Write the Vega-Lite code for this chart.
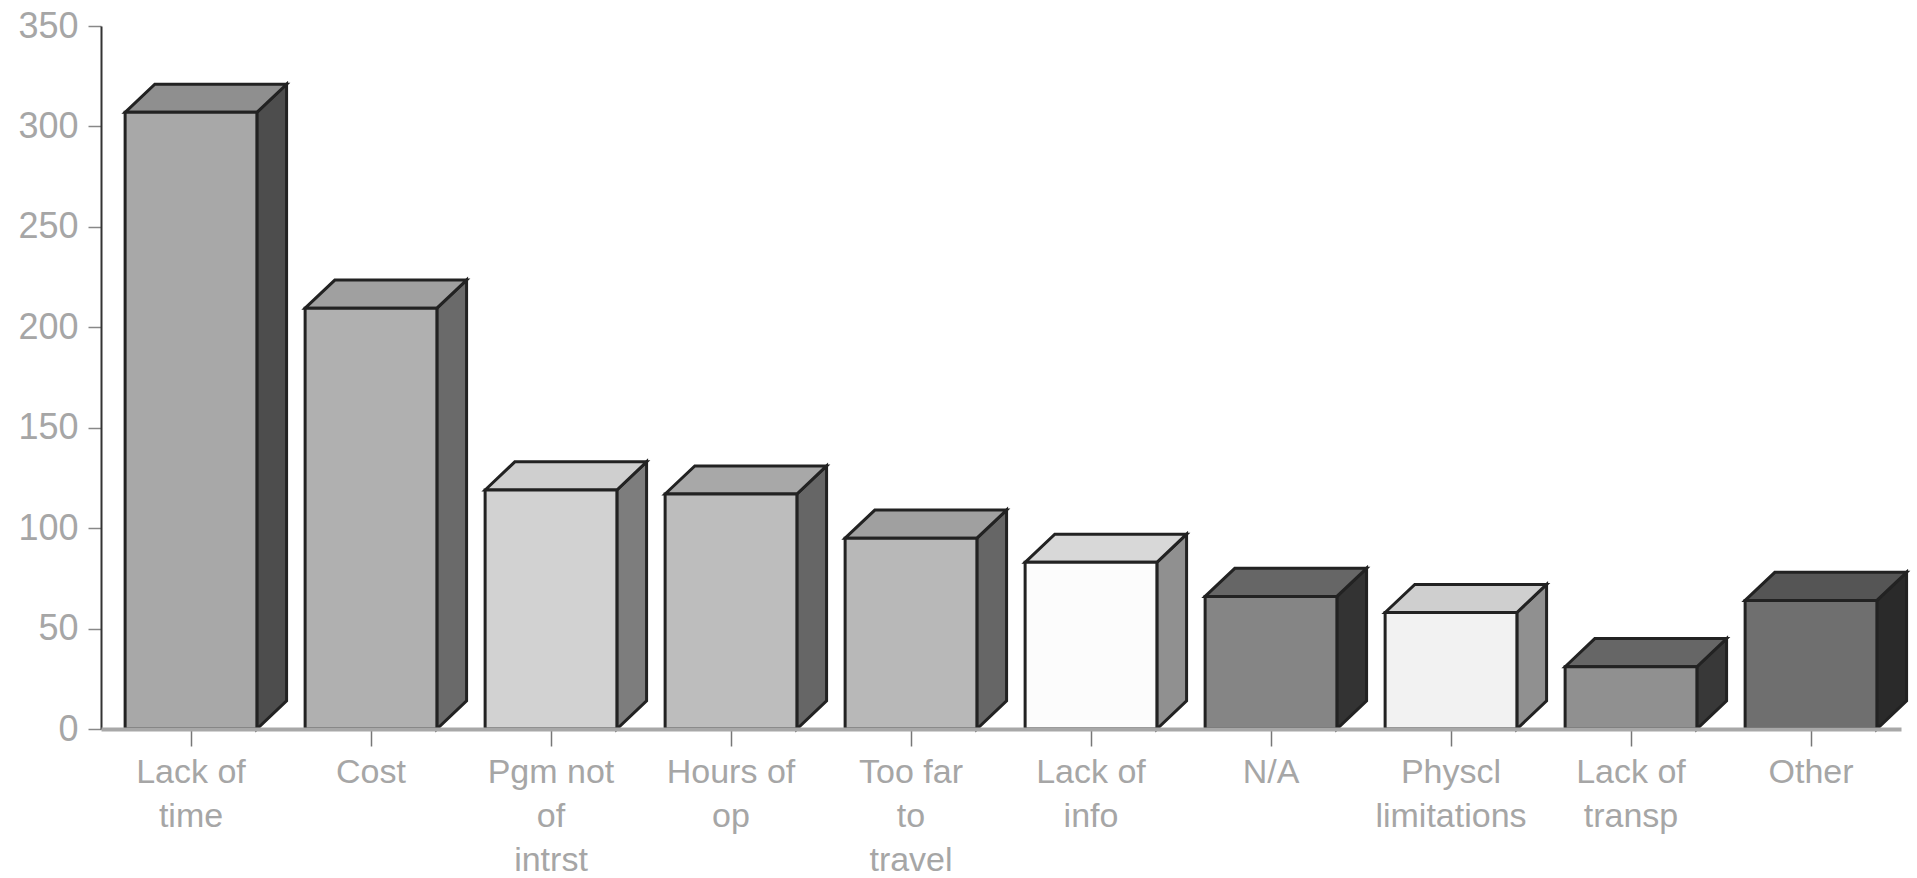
{"$schema":"https://vega.github.io/schema/vega-lite/v6.json","autosize":"none","padding":{"left":101,"top":26,"right":16,"bottom":149},"width":1800,"height":703,"background":"white","config":{"view":{"stroke":null}},
"data":{"values":[{"reason":"Lack of\ntime","count":307},{"reason":"Cost","count":209.5},{"reason":"Pgm not\nof\nintrst","count":119},{"reason":"Hours of\nop","count":117},{"reason":"Too far\nto\ntravel","count":95},{"reason":"Lack of\ninfo","count":83},{"reason":"N/A","count":66},{"reason":"Physcl\nlimitations","count":58},{"reason":"Lack of\ntransp","count":31},{"reason":"Other","count":64}]},
"transform":[{"window":[{"op":"row_number","as":"n"}]},{"calculate":"datum.n-0.5","as":"mid"},{"calculate":"datum.mid-0.366","as":"left"},{"calculate":"datum.mid+0.366","as":"right"}],
"resolve":{"scale":{"fill":"independent"}},
"layer":[
{"transform":[{"calculate":"[0,1]","as":"k"},{"flatten":["k"]},{"calculate":"datum.right+datum.k*0.165","as":"sx"},{"calculate":"datum.k*14","as":"s0"},{"calculate":"datum.count+datum.k*14","as":"s1"}],
"mark":{"type":"area","stroke":"#222222","strokeWidth":3},
"encoding":{"x":{"field":"sx","type":"quantitative","scale":{"domain":[0,10]},"axis":{"values":[0.5,1.5,2.5,3.5,4.5,5.5,6.5,7.5,8.5,9.5],"labels":false,"title":null,"grid":false,"tickColor":"#777777","tickSize":17,"tickWidth":1.5,"domainColor":"#a8a8a8","domainWidth":4,"zindex":1}},
"y":{"field":"s1","type":"quantitative","scale":{"domain":[0,350]},"axis":{"values":[0,50,100,150,200,250,300,350],"title":null,"grid":false,"domainColor":"#333333","domainWidth":2,"tickColor":"#888888","tickSize":13,"tickWidth":1.5,"labelColor":"#a6a6a6","labelFont":"Liberation Sans","labelFontSize":36,"labelPadding":10}},
"y2":{"field":"s0"},
"fill":{"field":"reason","type":"nominal","sort":null,"legend":null,"scale":{"range":["#4d4d4d","#6a6a6a","#7d7d7d","#666666","#666666","#909090","#333333","#909090","#383838","#2a2a2a"]}}}},
{"transform":[{"calculate":"[0,1,2,3]","as":"k"},{"flatten":["k"]},{"calculate":"datum.k==0?datum.left:datum.k==1?datum.left+0.165:datum.k==2?datum.right:datum.right+0.165","as":"tx"},{"calculate":"datum.k==3?datum.count+14:datum.count","as":"t0"},{"calculate":"datum.k==0?datum.count:datum.count+14","as":"t1"}],
"mark":{"type":"area","stroke":"#222222","strokeWidth":3},
"encoding":{"x":{"field":"tx","type":"quantitative","scale":{"domain":[0,10]}},"y":{"field":"t1","type":"quantitative","scale":{"domain":[0,350]}},"y2":{"field":"t0"},
"fill":{"field":"reason","type":"nominal","sort":null,"legend":null,"scale":{"range":["#8f8f8f","#a0a0a0","#cfcfcf","#a8a8a8","#a0a0a0","#d8d8d8","#666666","#cfcfcf","#666666","#555555"]}}}},
{"mark":{"type":"rect","stroke":"#222222","strokeWidth":3},
"encoding":{"x":{"field":"left","type":"quantitative","scale":{"domain":[0,10]}},"x2":{"field":"right"},"y":{"field":"count","type":"quantitative","scale":{"domain":[0,350]}},"y2":{"datum":0},
"fill":{"field":"reason","type":"nominal","sort":null,"legend":null,"scale":{"range":["#a8a8a8","#b0b0b0","#d2d2d2","#bdbdbd","#b8b8b8","#fcfcfc","#858585","#f2f2f2","#909090","#6f6f6f"]}}}},
{"mark":{"type":"text","baseline":"top","align":"center","dy":27,"lineBreak":"\n","lineHeight":44,"font":"Liberation Sans","fontSize":34,"color":"#a6a6a6"},
"encoding":{"x":{"field":"mid","type":"quantitative","scale":{"domain":[0,10]}},"y":{"datum":0,"scale":{"domain":[0,350]}},"text":{"field":"reason"}}}
]}
